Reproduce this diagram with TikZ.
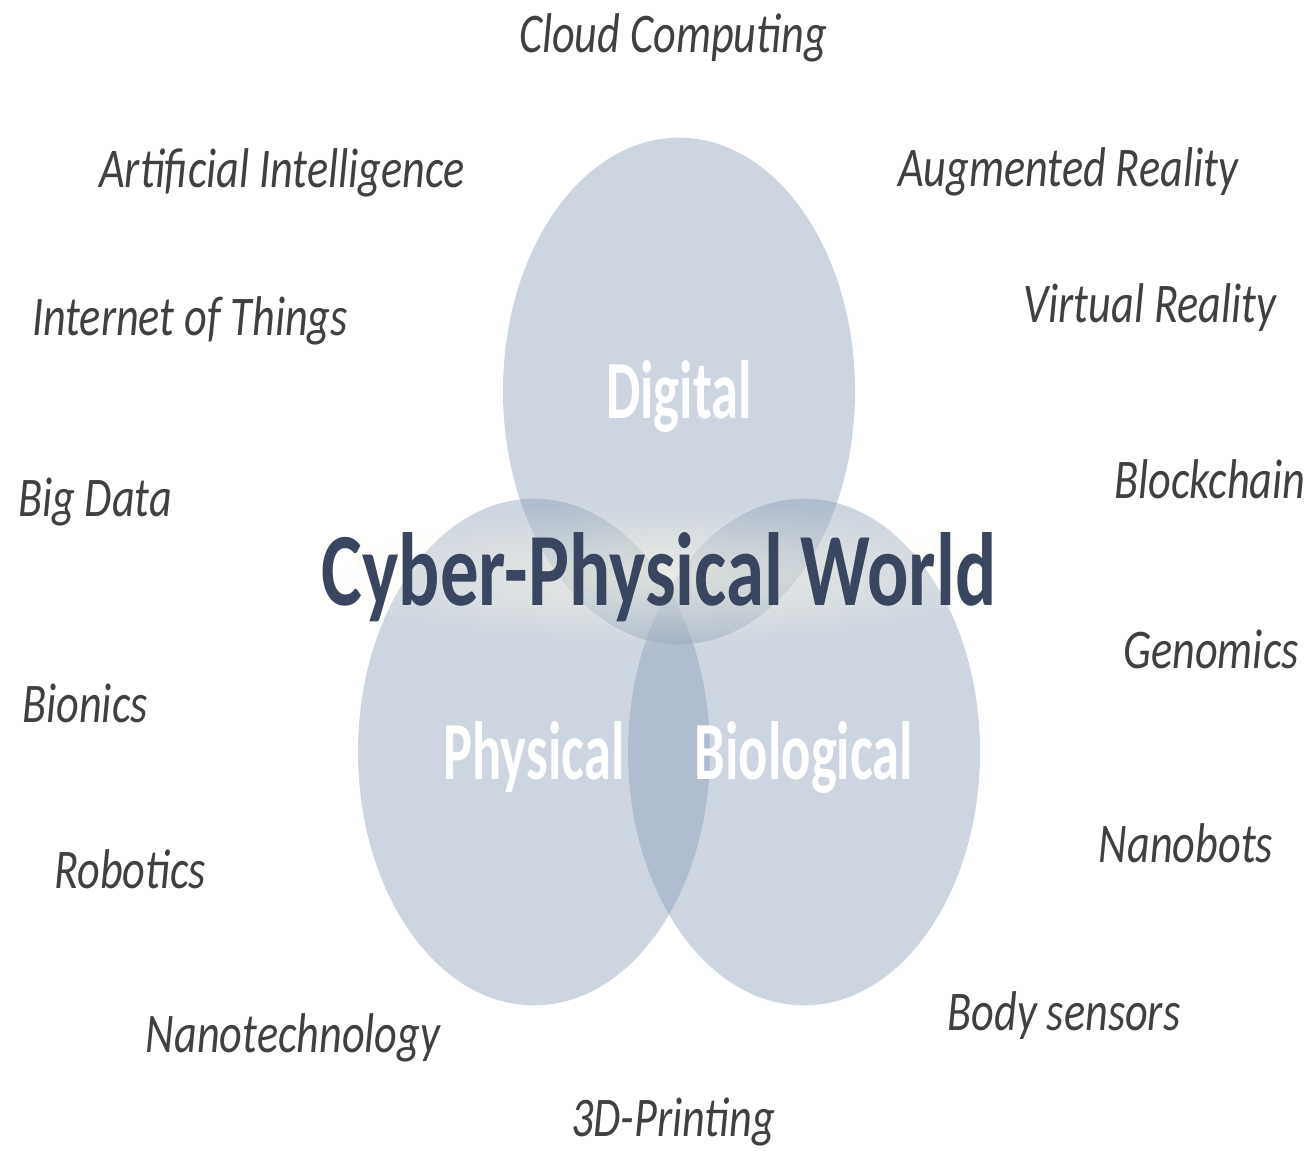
\documentclass[tikz,border=0pt]{standalone}
\usepackage{fontspec}
\usetikzlibrary{shapes.geometric,fadings}
\newfontfamily\techfont{Carlito}[FakeStretch=0.79]
\newfontfamily\headfont{Carlito}[FakeStretch=0.74]
\newfontfamily\spherefont{Carlito}[FakeStretch=0.66]
\definecolor{vennfill}{RGB}{136,155,181}
\definecolor{techgray}{RGB}{64,64,64}
\definecolor{cpwblue}{RGB}{58,70,96}
\definecolor{glowyellow}{RGB}{253,250,232}
\tikzfading[name=glowfade, inner color=transparent!40, outer color=transparent!100]

\begin{document}
\begin{tikzpicture}[x=0.75pt, y=-0.75pt,
      sphere/.style = {shape=ellipse, inner sep=0pt,
        minimum width=264pt, minimum height=380pt,
        text height=41pt, text depth=0pt,
        fill=vennfill, fill opacity=0.42, text opacity=1,
        text=white, font=\spherefont\bfseries\fontsize{62}{62}\selectfont
      },
      tech/.style = {anchor=base, inner sep=0pt, text=techgray,
        font=\techfont\itshape\fontsize{42}{42}\selectfont
      },
      world/.style = {anchor=base, inner sep=0pt, text=cpwblue,
        font=\headfont\bfseries\fontsize{78}{78}\selectfont
      }
    ]
    \useasboundingbox (0,0) rectangle (1312,1150);

    % the three spheres
    \node[sphere] (digital) at (679,391) {Digital};
    \node[sphere] (physical) at (534,752) {Physical};
    \node[sphere] (biological) at (804,752) {Biological};

    % soft glow, then the title
    \coordinate (glowa) at (280,500);
    \coordinate (glowb) at (1040,650);
    \fill[glowyellow, path fading=glowfade] (glowa) rectangle (glowb);
    \node[world] (title) at (659,605) {Cyber-Physical World};

    % left side
    \node[tech] (ai) at (282,187) {Artificial Intelligence};
    \node[tech] (iot) at (190,335) {Internet of Things};
    \node[tech] (bigdata) at (95,516) {Big Data};
    \node[tech] (bionics) at (85,722) {Bionics};
    \node[tech] (robotics) at (130,888) {Robotics};
    \node[tech] (nanotech) at (293,1052) {Nanotechnology};

    % right side
    \node[tech] (ar) at (1068,186) {Augmented Reality};
    \node[tech] (vr) at (1150,322) {Virtual Reality};
    \node[tech] (blockchain) at (1210,498) {Blockchain};
    \node[tech] (genomics) at (1211,668) {Genomics};
    \node[tech] (nanobots) at (1186,862) {Nanobots};
    \node[tech] (sensors) at (1064,1030) {Body sensors};

    % top and bottom
    \node[tech] (cloud) at (673,52) {Cloud Computing};
    \node[tech] (printing) at (673,1136) {3D-Printing};
\end{tikzpicture}
\end{document}
